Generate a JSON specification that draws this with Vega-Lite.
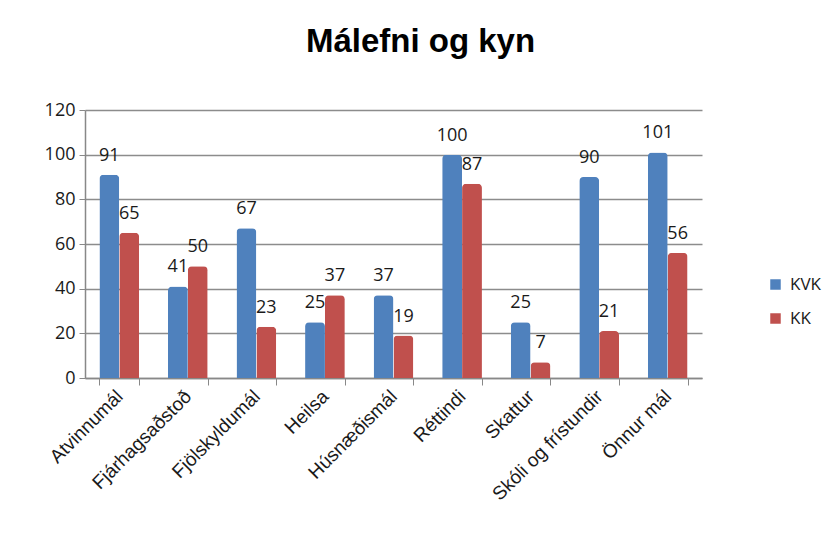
{
  "$schema": "https://vega.github.io/schema/vega-lite/v6.json",
  "width": 617,
  "height": 268,
  "autosize": {"type": "none"},
  "padding": {"left": 85, "top": 110, "right": 121, "bottom": 161},
  "background": "white",
  "title": {
    "text": "Málefni og kyn",
    "font": "Liberation Sans",
    "fontSize": 33,
    "fontWeight": "bold",
    "color": "#000000",
    "anchor": "middle",
    "dx": 27,
    "offset": 42
  },
  "data": {
    "values": [
      {"mal": "Atvinnumál", "kyn": "KVK", "fjoldi": 91},
      {"mal": "Atvinnumál", "kyn": "KK", "fjoldi": 65},
      {"mal": "Fjárhagsaðstoð", "kyn": "KVK", "fjoldi": 41},
      {"mal": "Fjárhagsaðstoð", "kyn": "KK", "fjoldi": 50},
      {"mal": "Fjölskyldumál", "kyn": "KVK", "fjoldi": 67},
      {"mal": "Fjölskyldumál", "kyn": "KK", "fjoldi": 23},
      {"mal": "Heilsa", "kyn": "KVK", "fjoldi": 25},
      {"mal": "Heilsa", "kyn": "KK", "fjoldi": 37},
      {"mal": "Húsnæðismál", "kyn": "KVK", "fjoldi": 37},
      {"mal": "Húsnæðismál", "kyn": "KK", "fjoldi": 19},
      {"mal": "Réttindi", "kyn": "KVK", "fjoldi": 100},
      {"mal": "Réttindi", "kyn": "KK", "fjoldi": 87},
      {"mal": "Skattur", "kyn": "KVK", "fjoldi": 25},
      {"mal": "Skattur", "kyn": "KK", "fjoldi": 7},
      {"mal": "Skóli og frístundir", "kyn": "KVK", "fjoldi": 90},
      {"mal": "Skóli og frístundir", "kyn": "KK", "fjoldi": 21},
      {"mal": "Önnur mál", "kyn": "KVK", "fjoldi": 101},
      {"mal": "Önnur mál", "kyn": "KK", "fjoldi": 56}
    ]
  },
  "encoding": {
    "x": {
      "field": "mal",
      "type": "nominal",
      "sort": null,
      "scale": {"paddingInner": 0.42, "paddingOuter": 0.21},
      "axis": {
        "title": null,
        "labelAngle": -45,
        "labelAlign": "right",
        "labelBaseline": "middle",
        "labelFont": "Liberation Sans",
        "labelFontSize": 19,
        "labelColor": "#1a1a1a",
        "labelPadding": 8,
        "labelLimit": 300,
        "labelOverlap": false,
        "tickBand": "extent",
        "tickColor": "#888888",
        "tickSize": 7,
        "domainColor": "#888888",
        "domainWidth": 1.5,
        "grid": false
      }
    },
    "xOffset": {"field": "kyn", "type": "nominal", "sort": ["KVK", "KK"]},
    "y": {
      "field": "fjoldi",
      "type": "quantitative",
      "scale": {"domain": [0, 120]},
      "axis": {
        "title": null,
        "values": [0, 20, 40, 60, 80, 100, 120],
        "labelFont": "Open Sans",
        "labelFontSize": 18,
        "labelColor": "#1a1a1a",
        "labelPadding": 4,
        "tickColor": "#888888",
        "tickSize": 6,
        "domainColor": "#888888",
        "domainWidth": 1.5,
        "gridColor": "#8c8c8c",
        "gridWidth": 1.5
      }
    },
    "color": {
      "field": "kyn",
      "type": "nominal",
      "sort": ["KVK", "KK"],
      "scale": {"domain": ["KVK", "KK"], "range": ["#4F81BD", "#C0504D"]},
      "legend": {
        "title": null,
        "orient": "none",
        "legendX": 682,
        "legendY": 166,
        "symbolType": "square",
        "symbolSize": 110,
        "symbolStrokeWidth": 0,
        "labelFont": "Open Sans",
        "labelFontSize": 17,
        "labelColor": "#1a1a1a",
        "rowPadding": 16,
        "labelOffset": 6
      }
    }
  },
  "layer": [
    {
      "mark": {"type": "bar", "cornerRadiusTopLeft": 4, "cornerRadiusTopRight": 4, "stroke": null}
    },
    {
      "mark": {
        "type": "text",
        "baseline": "bottom",
        "dy": -10,
        "font": "Open Sans",
        "fontSize": 18,
        "color": "#1a1a1a"
      },
      "encoding": {
        "text": {"field": "fjoldi", "type": "quantitative"},
        "color": {"value": "#1a1a1a"}
      }
    }
  ],
  "config": {
    "view": {"stroke": null}
  }
}
